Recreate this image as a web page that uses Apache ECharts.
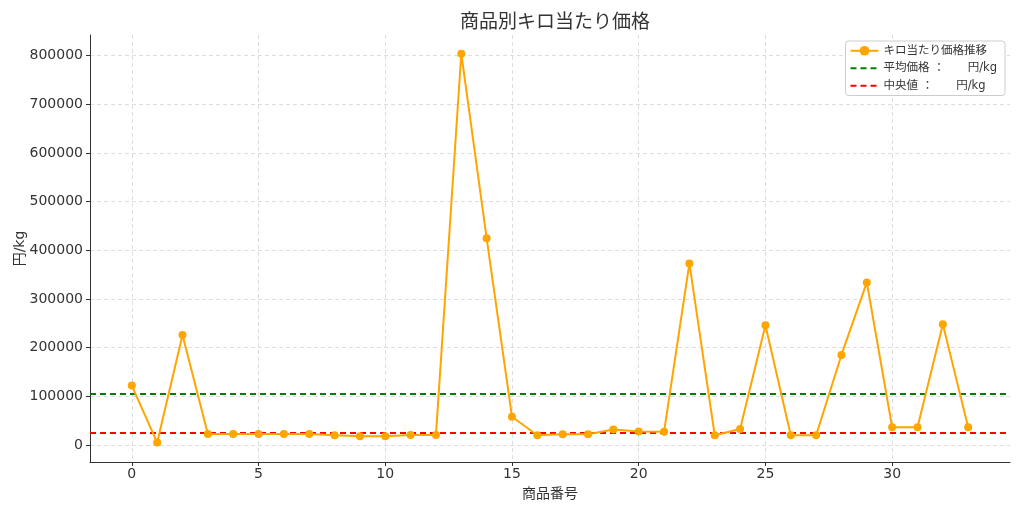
<!DOCTYPE html>
<html><head><meta charset="utf-8">
<script src="https://cdn.jsdelivr.net/npm/echarts@6/dist/echarts.min.js"></script>
<style>html,body{margin:0;padding:0;background:#fff}#c{width:1024px;height:512px}</style>
</head><body><div id="c"></div>
<script>
const indices = [0,1,2,3,4,5,6,7,8,9,10,11,12,13,14,15,16,17,18,19,20,21,22,23,24,25,26,27,28,29,30,31,32,33];
const prices = [122000,5000,226000,22500,22500,22500,22500,22500,20000,18000,18000,20500,20500,804000,425000,58000,20000,22000,22000,32000,27500,27000,373000,20000,33000,246000,20000,20000,185000,334000,36500,36500,248000,36500];
const meanValue = [105500];
const medianValue = [26000];
const xTicks = [0,5,10,15,20,25,30];
const yTicks = [0,100000,200000,300000,400000,500000,600000,700000,800000];
const titleText = '商品別キロ当たり価格';
const xName = '商品番号';
const yName = '円/kg';
const seriesName = 'キロ当たり価格推移';
const meanName = '平均価格 ：　　円/kg';
const medianName = '中央値 ：　　円/kg';

const FONT = '"DejaVu Sans", "Noto Sans CJK JP", sans-serif';
const chart = echarts.init(document.getElementById('c'), null, {renderer:'canvas'});
chart.setOption({
  animation:false,
  textStyle:{fontFamily:FONT},
  title:{text:titleText,left:550,top:9,textAlign:'center',textStyle:{fontSize:19,fontWeight:'normal',color:'#333',fontFamily:FONT}},
  legend:{
    right:19, top:41, orient:'vertical', itemGap:6, itemWidth:28, itemHeight:12,
    backgroundColor:'#fff', borderColor:'#ccc', borderWidth:1, borderRadius:3, padding:[4,8,4,4],
    textStyle:{fontSize:11.5,color:'#333',fontFamily:FONT},
    data:[
      {name:seriesName},
      {name:meanName,itemStyle:{opacity:0}},
      {name:medianName,itemStyle:{opacity:0}}
    ]
  },
  grid:{left:90,right:14,top:35,bottom:50,containLabel:false,outerBoundsMode:'none'},
  xAxis:{
    type:'value', min:-1.65, max:34.65,
    name:xName, nameLocation:'middle', nameGap:25, nameMoveOverlap:false,
    nameTextStyle:{fontSize:14,color:'#333',fontFamily:FONT},
    axisLine:{show:true,onZero:false,lineStyle:{color:'#333',width:1}},
    axisTick:{show:true,customValues:xTicks,length:4,lineStyle:{color:'#333'}},
    axisLabel:{customValues:xTicks,fontSize:14,color:'#333',margin:5,fontFamily:FONT},
    splitLine:{show:true,lineStyle:{color:'#d6d6d6',type:[4,3],width:0.8}}
  },
  yAxis:{
    type:'value', min:-35000, max:842500,
    name:yName, nameLocation:'middle', nameGap:63, nameRotate:90, nameMoveOverlap:false,
    nameTextStyle:{fontSize:14,color:'#333',fontFamily:FONT},
    axisLine:{show:true,onZero:false,lineStyle:{color:'#333',width:1}},
    axisTick:{show:true,customValues:yTicks,length:4,lineStyle:{color:'#333'}},
    axisLabel:{customValues:yTicks,fontSize:14,color:'#333',margin:7,fontFamily:FONT,formatter:v=>String(v)},
    splitLine:{show:true,lineStyle:{color:'#d6d6d6',type:[4,3],width:0.8}}
  },
  series:[
    {
      name:seriesName, type:'line',
      data:indices.map((x,i)=>[x,prices[i]]),
      color:'#FFA500',
      lineStyle:{width:2,color:'#FFA500'},
      symbol:'circle', symbolSize:8,
      itemStyle:{color:'#FFA500'},
      z:5
    },
    {
      name:meanName, type:'line', data:[], symbol:'none',
      color:'#008000',
      lineStyle:{color:'#008000',type:[6,4],width:1.8},
      markLine:{silent:true,symbol:'none',label:{show:false},
        lineStyle:{color:'#008000',type:[6,4],width:1.8},
        data:[{yAxis:meanValue[0]}]}
    },
    {
      name:medianName, type:'line', data:[], symbol:'none',
      color:'#FF0000',
      lineStyle:{color:'#FF0000',type:[6,4],width:1.8},
      markLine:{silent:true,symbol:'none',label:{show:false},
        lineStyle:{color:'#FF0000',type:[6,4],width:1.8},
        data:[{yAxis:medianValue[0]}]}
    }
  ]
});
</script></body></html>
